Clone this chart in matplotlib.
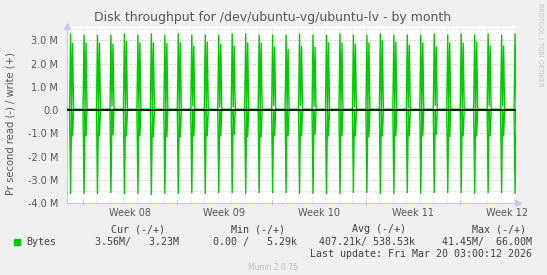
import numpy as np
import matplotlib
matplotlib.use("Agg")
import matplotlib.pyplot as plt

# daily backup spikes, one per day from Feb 15 to Mar 20 (values in MB/s)
first_day = -1          # day offset from Mon Feb 16 00:00
spike_hour = 1.9
write_peak = [3.28, 3.23, 3.23, 3.23, 3.28, 3.23, 3.28, 3.23, 3.28, 3.23, 3.23,
              3.23, 3.28, 3.28, 3.23, 3.23, 3.23, 3.28, 3.23, 3.23, 3.28, 3.23, 3.23,
              3.28, 3.23, 3.23, 3.23, 3.28, 3.23, 3.28, 3.23, 3.28, 3.23, 3.28]
write_second = [2.87, 2.89, 2.89, 2.84, 2.95, 2.89, 2.89, 2.87, 2.89, 2.74, 2.93,
                2.84, 2.76, 2.89, 2.89, 2.72, 2.61, 2.74, 2.70, 2.89, 2.89, 2.84, 2.89,
                2.99, 2.93, 2.80, 2.89, 2.72, 2.89, 2.89, 2.93, 2.76, 2.76, 2.80]
write_mid = [0.05, 0.05, 0.05, 0.19, 0.05, 0.05, 0.05, 0.05, 0.05, 0.19, 0.05,
             0.12, 0.13, 0.05, 0.05, 0.20, 0.05, 0.20, 0.16, 0.05, 0.05, 0.14, 0.05,
             0.05, 0.05, 0.10, 0.05, 0.20, 0.05, 0.05, 0.05, 0.20, 0.20, 0.05]
read_peak = [3.59, 3.59, 3.59, 3.55, 3.59, 3.59, 3.64, 3.59, 3.59, 3.55, 3.59,
             3.55, 3.55, 3.59, 3.55, 3.55, 3.55, 3.59, 3.59, 3.59, 3.59, 3.55, 3.55,
             3.59, 3.59, 3.55, 3.59, 3.55, 3.55, 3.55, 3.59, 3.55, 3.55, 3.59]
read_second = [1.11, 1.11, 1.11, 1.05, 1.11, 1.11, 1.15, 1.15, 1.15, 1.11, 1.11,
               1.11, 1.05, 1.15, 1.15, 1.11, 1.11, 1.11, 1.05, 1.11, 1.11, 1.11, 1.15,
               1.11, 1.11, 1.11, 1.11, 1.05, 1.15, 1.11, 1.11, 1.11, 1.11, 1.11]
write_base = 0.04
weeks = ["Week 08", "Week 09", "Week 10", "Week 11", "Week 12"]

step = 1.78 / 24  # one rrd step (day)
t_w, v_w, t_r, v_r = [], [], [], []
for i in range(len(write_peak)):
    t0 = first_day + i + spike_hour / 24
    ts = [t0 - step, t0, t0 + step, t0 + 2 * step, t0 + 3 * step]
    t_w += ts
    v_w += [write_base, write_peak[i], write_mid[i], write_second[i], write_base]
    t_r += ts
    v_r += [0, -read_peak[i], -0.05, -read_second[i], 0]
t_w = [-1.3] + t_w + [32.2]
v_w = [write_base] + v_w + [write_base]
t_r = [-1.3] + t_r + [32.2]
v_r = [0] + v_r + [0]
v_w = np.array(v_w) * 1e6
v_r = np.array(v_r) * 1e6

W, H = 547, 275
fig = plt.figure(figsize=(W / 100, H / 100), dpi=100, facecolor='#F0F0F0')
x0, x1, y0, y1 = 66.7, 515.7, 26, 203
ax = fig.add_axes([x0 / W, 1 - y1 / H, (x1 - x0) / W, (y1 - y0) / H])
ax.set_facecolor('white')

xmin, xmax = -1.208, 32.125
ax.set_xlim(xmin, xmax)
ax.set_ylim(-4.0e6, 3.62e6)

minor_c = '#C8C8C8'
major_c = '#EE9A9A'
dot = (0, (1, 2))
for d in range(-1, 33):
    if d % 7 == 0:
        continue
    ax.axvline(d, color=minor_c, lw=0.6, ls=dot, zorder=1)
for d in range(0, 33, 7):
    ax.axvline(d, color=major_c, lw=0.6, ls=dot, zorder=1)
for v in np.arange(-3.5, 3.6, 1.0):
    ax.axhline(v * 1e6, color=minor_c, lw=0.6, ls=dot, zorder=1)
for v in range(-3, 4):
    ax.axhline(v * 1e6, color=major_c, lw=0.6, ls=dot, zorder=1)

ax.plot(t_w, v_w, color='#00CC00', lw=1.0, zorder=3)
ax.plot(t_r, v_r, color='#00CC00', lw=1.0, zorder=3)
ax.axhline(0, color='black', lw=1.2, zorder=4)

for s in ['top', 'right']:
    ax.spines[s].set_visible(False)
for s in ['left', 'bottom']:
    ax.spines[s].set_color('#C8C8F0')
    ax.spines[s].set_linewidth(0.8)

yt = np.arange(-4, 4)
ax.set_yticks(yt * 1e6)
ax.set_yticklabels(["0.0" if v == 0 else "%.1f M" % v for v in yt])
ax.set_xticks(range(0, 33, 7))
ax.set_xticklabels([])
ax.tick_params(axis='y', length=0, pad=6, labelsize=7, labelcolor='#555555')
ax.tick_params(axis='x', length=3, direction='inout', color=major_c, width=0.6)
for i, wk in enumerate(weeks):
    ax.text(7 * i + 3.5, -0.055, wk, transform=ax.get_xaxis_transform(),
            ha='center', va='center', fontsize=7, color='#555555')

# axis arrows
ax.plot([xmin], [3.62e6], marker='^', ms=4, color='#C8C8F0', clip_on=False, zorder=5)
ax.plot([xmax + 0.2], [-4.0e6], marker='>', ms=4, color='#C8C8F0', clip_on=False, zorder=5)

def ftxt(x, y, s, **kw):
    fig.text(x / W, 1 - y / H, s, va='center', **kw)

ftxt(273, 18, "Disk throughput for /dev/ubuntu-vg/ubuntu-lv - by month",
     ha='center', fontsize=9, color='#555555')
ftxt(11, 124, "Pr second read (-) / write (+)", ha='center', rotation=90,
     fontsize=7.2, color='#555555')
ftxt(540, 45, "RRDTOOL / TOBI OETIKER", ha='center', rotation=270,
     fontsize=4.7, color='#C0C0C0')

mono = dict(family='DejaVu Sans Mono', fontsize=7.2, color='#404040')
ftxt(111, 229, "Cur (-/+)", ha='left', **mono)
ftxt(231, 229, "Min (-/+)", ha='left', **mono)
ftxt(352, 229, "Avg (-/+)", ha='left', **mono)
ftxt(472, 229, "Max (-/+)", ha='left', **mono)
ftxt(26, 242, "Bytes", ha='left', **mono)
ftxt(179, 242, "3.56M/   3.23M", ha='right', **mono)
ftxt(297, 242, "0.00 /   5.29k", ha='right', **mono)
ftxt(415, 242, "407.21k/ 538.53k", ha='right', **mono)
ftxt(532, 242, "41.45M/  66.00M", ha='right', **mono)
ftxt(532, 254, "Last update: Fri Mar 20 03:00:12 2026", ha='right', **mono)
fig.patches.append(plt.Rectangle((14 / W, 1 - 244.5 / H), 5.5 / W, 5.5 / H,
                                 transform=fig.transFigure, color='#00CC00'))
ftxt(273, 267, "Munin 2.0.75", ha='center', fontsize=5.5, color='#BBBBBB')

fig.savefig('out.png', dpi=100, facecolor=fig.get_facecolor())
